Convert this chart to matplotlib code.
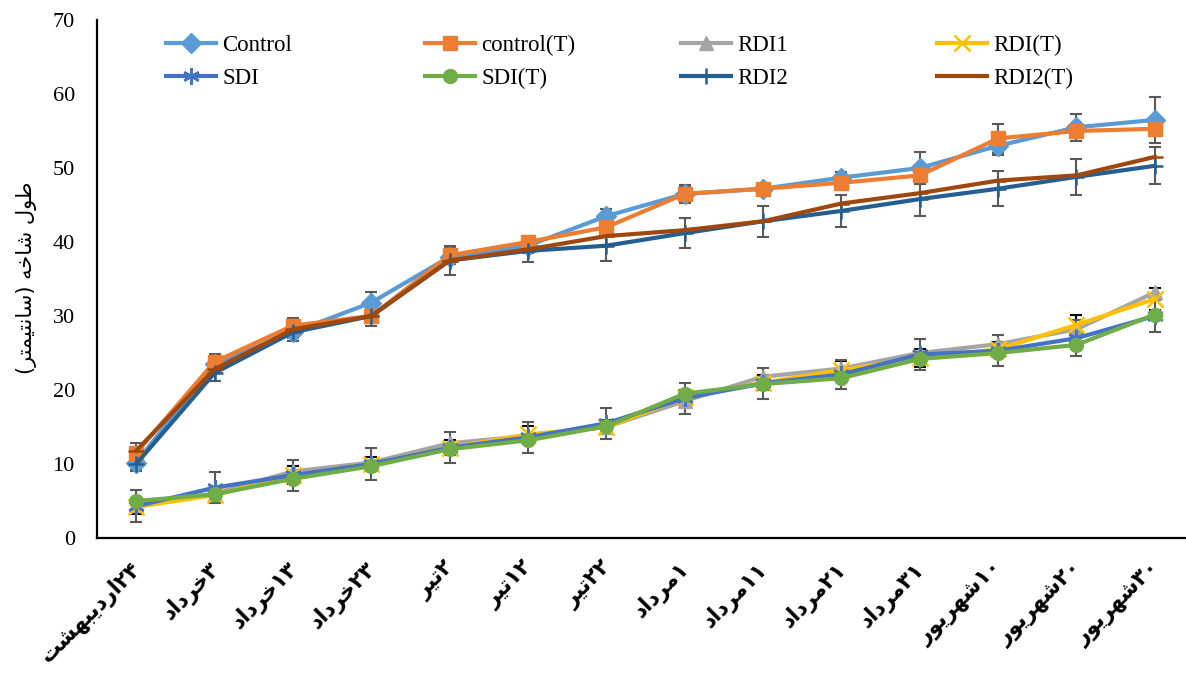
import matplotlib
matplotlib.use("Agg")
import matplotlib.pyplot as plt
import matplotlib.transforms as mtransforms
import numpy as np

# ---------------- data ----------------
dates_fa = [("اردیبهشت", "۲۴"), ("خرداد", "۳"), ("خرداد", "۱۳"), ("خرداد", "۲۳"),
            ("تیر", "۲"), ("تیر", "۱۲"), ("تیر", "۲۲"), ("مرداد", "۱"),
            ("مرداد", "۱۱"), ("مرداد", "۲۱"), ("مرداد", "۳۱"), ("شهریور", "۱۰"),
            ("شهریور", "۲۰"), ("شهریور", "۳۰")]

control    = [10.2, 23.5, 27.8, 31.8, 38.0, 39.5, 43.5, 46.5, 47.2, 48.7, 50.0, 53.0, 55.5, 56.5]
control_t  = [11.5, 23.8, 28.7, 30.0, 38.2, 40.0, 42.0, 46.5, 47.2, 48.0, 49.0, 54.0, 55.0, 55.3]
rdi1       = [4.5, 6.0, 9.0, 10.2, 12.8, 13.8, 15.0, 18.5, 21.8, 22.9, 25.0, 26.2, 28.2, 33.2]
rdi_t      = [4.2, 5.8, 8.5, 10.0, 12.2, 14.0, 15.0, 19.0, 21.0, 22.7, 24.3, 25.5, 28.8, 32.3]
sdi        = [4.3, 6.8, 8.5, 10.0, 12.2, 13.6, 15.5, 18.9, 20.9, 22.1, 24.8, 25.3, 27.0, 30.0]
sdi_t      = [5.0, 5.9, 8.0, 9.7, 12.0, 13.2, 15.1, 19.5, 20.8, 21.6, 24.2, 25.0, 26.1, 30.2]
rdi2       = [10.0, 22.3, 27.8, 30.0, 37.5, 38.8, 39.5, 41.2, 42.8, 44.2, 45.8, 47.2, 48.8, 50.3]
rdi2_t     = [11.8, 22.8, 28.2, 30.0, 37.5, 39.0, 40.8, 41.6, 42.8, 45.2, 46.6, 48.3, 49.0, 51.5]

err_control   = [1.0, 1.0, 0.8, 1.4, 1.0, 1.0, 1.0, 1.2, 0.6, 0.8, 2.2, 1.2, 1.8, 3.1]
err_control_t = [1.3, 1.0, 1.0, 1.3, 1.0, 0.8, 1.0, 1.0, 0.6, 0.8, 1.0, 2.0, 1.0, 1.0]
err_rdi2      = [1.0, 1.1, 1.2, 1.0, 2.0, 1.5, 2.0, 2.0, 2.1, 2.2, 2.3, 2.4, 2.4, 2.5]
err_rdi_t     = [1.0, 1.0, 1.2, 1.0, 1.0, 1.2, 1.0, 1.0, 1.0, 1.2, 1.2, 1.0, 1.3, 1.5]
err_sdi       = [2.2, 2.1, 2.1, 2.2, 2.1, 2.1, 2.1, 2.1, 2.1, 2.0, 2.1, 2.1, 2.4, 2.2]

series = [
    ("Control",   control,   "#5B9BD5", "D", err_control),
    ("control(T)", control_t, "#ED7D31", "s", err_control_t),
    ("RDI1",      rdi1,      "#A5A5A5", "^", None),
    ("RDI(T)",    rdi_t,     "#FFC000", "x", err_rdi_t),
    ("SDI",       sdi,       "#4472C4", (6, 2, 0), err_sdi),
    ("SDI(T)",    sdi_t,     "#70AD47", "o", None),
    ("RDI2",      rdi2,      "#255E91", "+", err_rdi2),
    ("RDI2(T)",   rdi2_t,    "#9E480E", "_", None),
]

# ---------------- Persian shaping helpers ----------------
FORMS = {
    "ا": ("\uFE8D", "\uFE8E"),
    "ب": ("\uFE8F", "\uFE90", "\uFE91", "\uFE92"),
    "ت": ("\uFE95", "\uFE96", "\uFE97", "\uFE98"),
    "خ": ("\uFEA5", "\uFEA6", "\uFEA7", "\uFEA8"),
    "د": ("\uFEA9", "\uFEAA"),
    "ر": ("\uFEAD", "\uFEAE"),
    "س": ("\uFEB1", "\uFEB2", "\uFEB3", "\uFEB4"),
    "ش": ("\uFEB5", "\uFEB6", "\uFEB7", "\uFEB8"),
    "ط": ("\uFEC1", "\uFEC2", "\uFEC3", "\uFEC4"),
    "ل": ("\uFEDD", "\uFEDE", "\uFEDF", "\uFEE0"),
    "م": ("\uFEE1", "\uFEE2", "\uFEE3", "\uFEE4"),
    "ن": ("\uFEE5", "\uFEE6", "\uFEE7", "\uFEE8"),
    "ه": ("\uFEE9", "\uFEEA", "\uFEEB", "\uFEEC"),
    "و": ("\uFEED", "\uFEEE"),
    "ی": ("\uFBFC", "\uFBFD", "\uFBFE", "\uFBFF"),
}


def shape(word):
    out = []
    n = len(word)
    for i, c in enumerate(word):
        f = FORMS.get(c)
        if f is None:
            out.append(c)
            continue
        prev_joins = i > 0 and word[i - 1] in FORMS and len(FORMS[word[i - 1]]) == 4
        next_joins = len(f) == 4 and i + 1 < n and word[i + 1] in FORMS
        if prev_joins and next_joins:
            out.append(f[3])
        elif prev_joins:
            out.append(f[1])
        elif next_joins:
            out.append(f[2])
        else:
            out.append(f[0])
    return "".join(out)


def rtl(word):
    return shape(word)[::-1]


xlabels = [rtl(w) + d for w, d in dates_fa]
ylabel_text = "(" + rtl("سانتیمتر") + ") " + rtl("شاخه") + " " + rtl("طول")

# ---------------- figure ----------------
W, H, DPI = 1186, 677, 100
fig = plt.figure(figsize=(W / DPI, H / DPI), dpi=DPI)
left, right, top, bottom = 97, 1194, 20, 538
ax = fig.add_axes([left / W, 1 - bottom / H, (right - left) / W, (bottom - top) / H])

x = np.arange(len(xlabels))
handles = []
for name, vals, col, mk, err in series:
    if err is not None:
        ec = "black" if name == "RDI(T)" else "#595959"
        ax.errorbar(x, vals, yerr=err, fmt="none", ecolor=ec, elinewidth=1.5,
                    capsize=4.5, capthick=1.5, zorder=2)
    kw = dict(markersize=10)
    if mk in ("x", "+", "_") or isinstance(mk, tuple):
        kw.update(markeredgewidth=1.8, markersize=12)
    h, = ax.plot(x, vals, color=col, lw=3, marker=mk, label=name, zorder=3, **kw)
    handles.append(h)

ax.set_xlim(-0.5, len(xlabels) - 0.5)
ax.set_ylim(0, 70)
ax.set_yticks(np.arange(0, 71, 10))
ax.set_xticks(x)
ax.set_xticklabels(xlabels, rotation=45, ha="right", va="top",
                   fontfamily="DejaVu Sans", fontweight="bold", fontsize=15.5)
ax.tick_params(axis="x", length=0, pad=14)
ax.tick_params(axis="y", length=0, pad=16)
shift = mtransforms.ScaledTranslation(9 / DPI, 0, fig.dpi_scale_trans)
for lab in ax.get_xticklabels():
    lab.set_transform(lab.get_transform() + shift)
for lab in ax.get_yticklabels():
    lab.set_fontfamily("Liberation Serif")
    lab.set_fontsize(16)

for s in ("top", "right"):
    ax.spines[s].set_visible(False)
for s in ("left", "bottom"):
    ax.spines[s].set_linewidth(1.6)
    ax.spines[s].set_color("black")

fig.text(27 / W, 1 - 278 / H, ylabel_text, rotation=90, ha="center", va="center",
         fontfamily="DejaVu Sans", fontsize=15)

# legend: 4 fixed columns, 2 rows (row-major like the original)
col_px = [166, 425, 681, 937]
for j, px in enumerate(col_px):
    hs = [handles[j], handles[j + 4]]
    leg = ax.legend(handles=hs, labels=[h.get_label() for h in hs],
                    loc="upper left",
                    bbox_to_anchor=((px - left) / (right - left), (bottom - 35) / (bottom - top)),
                    frameon=False, borderpad=0, borderaxespad=0,
                    prop={"family": "Liberation Serif", "size": 16.5},
                    handlelength=2.2, handletextpad=0.25, labelspacing=0.5)
    if j < len(col_px) - 1:
        ax.add_artist(leg)

fig.savefig("out.png", dpi=DPI)
